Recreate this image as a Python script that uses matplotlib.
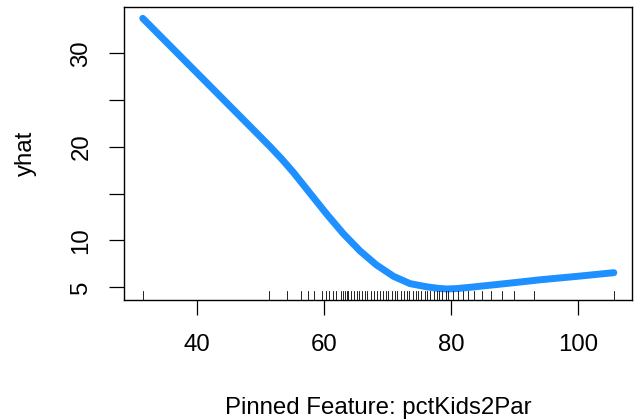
import matplotlib
matplotlib.use("Agg")
import matplotlib.pyplot as plt
import matplotlib.transforms as mtransforms

plt.rcParams['font.family'] = ['Liberation Sans', 'DejaVu Sans']

# partial dependence curve
feat = [31.4, 40.0, 49.9, 51.5, 53.3, 55.1, 57.7, 60.4, 63.0, 65.6, 68.2, 70.9,
        73.5, 76.2, 78.0, 79.3, 80.8, 83.0, 86.1, 90.0, 94.0, 100.0, 105.6]
yhat = [33.74, 27.87, 21.1, 20.0, 18.7, 17.3, 15.09, 12.8, 10.72, 8.9, 7.39, 6.17,
        5.39, 5.04, 4.88, 4.82, 4.86, 5.0, 5.22, 5.5, 5.8, 6.18, 6.56]

# rug of observed feature values
rug = [31.5, 51.3, 54.2, 56.3, 57.5, 58.4, 59.6, 60.3, 60.8, 61.3, 61.9, 62.6, 62.9,
       63.2, 63.5, 63.8, 64.2, 64.6, 65.1, 65.4, 65.9, 66.4, 66.8, 67.3, 67.8, 68.3,
       68.7, 69.2, 69.7, 70.1, 70.6, 71.1, 71.5, 72.0, 72.5, 73.0, 73.4, 73.9, 74.4,
       74.8, 75.3, 75.8, 76.2, 76.7, 77.2, 77.7, 78.1, 78.6, 79.1, 79.5, 80.2, 81.0,
       81.8, 82.6, 83.6, 84.8, 86.2, 88.0, 89.8, 93.0, 105.6]

xticks = [40, 60, 80, 100]
yticks = [5, 10, 15, 20, 25, 30]
ylabels = ['5', '10', '', '20', '', '30']

fig = plt.figure(figsize=(6.36, 4.19), dpi=100)
fig.subplots_adjust(left=124/636, right=632/636, top=1-7/419, bottom=1-300/419)
ax = fig.add_subplot(111)

ax.plot(feat, yhat, color='#1E90FF', lw=5, solid_capstyle='round', solid_joinstyle='round')

trans = mtransforms.blended_transform_factory(ax.transData, ax.transAxes)
for v in rug:
    ax.plot([v, v], [0, 0.03], color='black', lw=0.6, transform=trans, clip_on=False)

ax.set_xlim(28.45, 108.46)
ax.set_ylim(3.64, 34.95)
ax.set_xticks(xticks)
ax.set_yticks(yticks)
ax.set_yticklabels(ylabels, rotation=90, va='center')

for s in ax.spines.values():
    s.set_linewidth(1.0)
ax.tick_params(length=10.8, width=0.9, labelsize=17.3, pad=12)
ax.tick_params(axis='x', pad=14)

ax.set_xlabel('Pinned Feature: pctKids2Par', fontsize=17.3, labelpad=29)
ax.set_ylabel('yhat', fontsize=17.3, labelpad=24)

fig.savefig('out.png', dpi=100)
